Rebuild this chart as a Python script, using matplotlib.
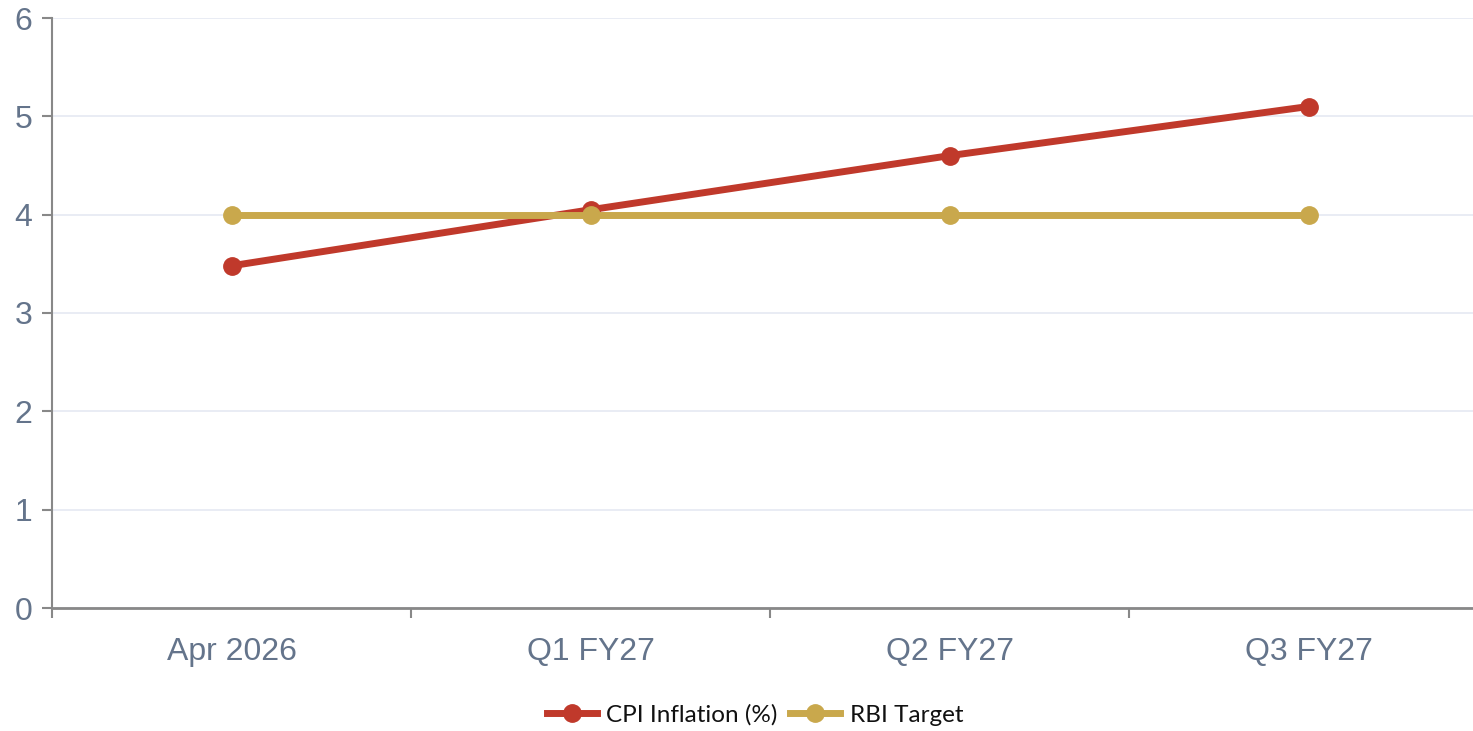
import matplotlib.pyplot as plt
import numpy as np
from matplotlib.ticker import FixedLocator

categories = ['Apr 2026', 'Q1 FY27', 'Q2 FY27', 'Q3 FY27']
cpi = [3.48, 4.05, 4.6, 5.1]
rbi_target = [4, 4, 4, 4]

red = '#c0392b'
gold = '#c9a84c'
label_color = '#64748b'
axis_color = '#888888'
grid_color = '#e5e9f2'

plt.rcParams['font.family'] = ['Liberation Sans', 'DejaVu Sans']

fig = plt.figure(figsize=(14.73, 7.31), dpi=100)
ax = fig.add_axes([52 / 1473, 1 - 608 / 731, (1488 - 52) / 1473, (608 - 18) / 731])

x = np.arange(len(categories))
ax.plot(x, cpi, color=red, lw=5, marker='o', ms=12.5, label='CPI Inflation (%)', zorder=3)
ax.plot(x, rbi_target, color=gold, lw=5, marker='o', ms=12.5, label='RBI Target', zorder=4)

ax.set_xlim(-0.5, len(categories) - 0.5)
ax.set_ylim(0, 6)
ax.set_yticks(range(0, 7))

# category labels centered, ticks at band edges
ax.xaxis.set_major_locator(FixedLocator(np.arange(-0.5, len(categories), 1.0)))
ax.xaxis.set_minor_locator(FixedLocator(x))
ax.set_xticklabels([])
ax.set_xticks(x, categories, minor=True)
ax.tick_params(axis='x', which='major', length=7, width=1.5, color=axis_color)
ax.tick_params(axis='x', which='minor', length=0, pad=21, labelsize=23, labelcolor=label_color)
ax.tick_params(axis='y', length=7, width=1.5, color=axis_color, pad=7,
               labelsize=23, labelcolor=label_color)

ax.grid(axis='y', color=grid_color, lw=1.2)
ax.grid(axis='x', visible=False)
ax.set_axisbelow(True)

for s in ['top', 'right']:
    ax.spines[s].set_visible(False)
ax.spines['left'].set_color(axis_color)
ax.spines['left'].set_linewidth(1.5)
ax.spines['bottom'].set_color(axis_color)
ax.spines['bottom'].set_linewidth(2)

fig.legend(loc='center', bbox_to_anchor=(755 / 1473, 1 - 715 / 731), ncol=2, frameon=False,
           prop={'family': ['Lato', 'DejaVu Sans'], 'size': 17.5}, handlelength=2.05,
           handletextpad=0.4, columnspacing=0.5, labelcolor='#111111')

fig.savefig('out.png', dpi=100)
